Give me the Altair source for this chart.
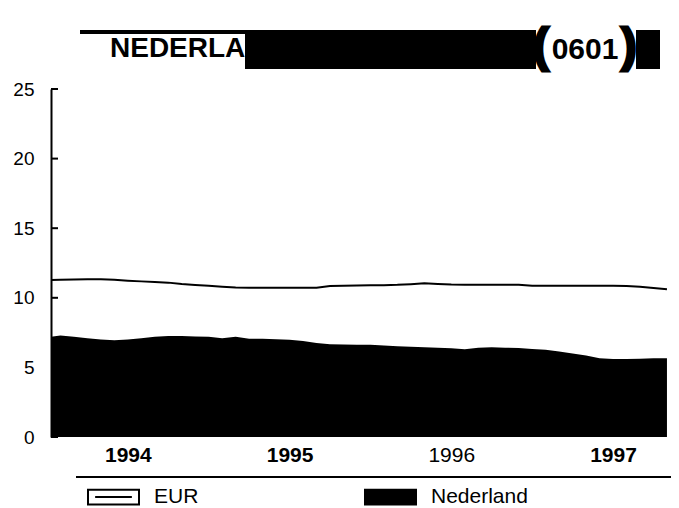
import altair as alt
import pandas as pd

# ---- data ----
MONTH_INDEX = list(range(47))  # months since Jan 1994 (Jan 1994 .. Nov 1997)
EUR = [11.28, 11.30, 11.32, 11.33, 11.33, 11.30, 11.23, 11.18, 11.13, 11.09,
       10.99, 10.92, 10.86, 10.80, 10.74, 10.73, 10.73, 10.73, 10.73, 10.73,
       10.73, 10.85, 10.87, 10.88, 10.90, 10.91, 10.93, 10.98, 11.04, 11.00,
       10.95, 10.94, 10.94, 10.94, 10.94, 10.94, 10.86, 10.86, 10.86, 10.86,
       10.86, 10.86, 10.86, 10.85, 10.80, 10.70, 10.62]
NL = [7.15, 7.30, 7.20, 7.10, 7.00, 6.95, 7.00, 7.10, 7.20, 7.25,
      7.25, 7.22, 7.20, 7.10, 7.20, 7.05, 7.05, 7.02, 6.98, 6.90,
      6.75, 6.66, 6.65, 6.63, 6.62, 6.58, 6.52, 6.48, 6.45, 6.42,
      6.38, 6.30, 6.42, 6.44, 6.42, 6.40, 6.33, 6.27, 6.15, 6.00,
      5.85, 5.65, 5.60, 5.60, 5.62, 5.65, 5.65]
SERIES = ["EUR", "Nederland"]
YEAR_LABEL_POS = [6, 18, 30, 42]  # mid-year positions for labels 1994..1997
Y_TICKS = [0, 5, 10, 15, 20, 25]
TITLE_TEXT = "NEDERLAND"
CODE_TEXT = "0601"

FONT = "Liberation Sans"

df = pd.DataFrame({"t": MONTH_INDEX, "eur": EUR, "nl": NL, "series": "Nederland"})

xscale = alt.Scale(domain=[0.3, 46.3], nice=False, zero=False)
yscale = alt.Scale(domain=[0, 25], nice=False)

XAXIS = alt.Axis(values=YEAR_LABEL_POS,
                 labelExpr="floor(datum.value / 12) + 1994",
                 domain=False, ticks=False, tickSize=0, grid=False,
                 labelFontSize=21, labelFont=FONT, labelColor="black",
                 labelFontWeight={"condition": {"test": "datum.value == 30", "value": "normal"},
                                  "value": "bold"},
                 labelBaseline="middle", labelPadding=18, labelFlush=False)
YAXIS = alt.Axis(values=Y_TICKS, domain=True, domainColor="black", domainWidth=2,
                 ticks=False, tickSize=0, grid=False, labelFontSize=19, labelFont=FONT,
                 labelColor="black", labelPadding=17, labelFlush=False)

legend_path = "M-1,-0.29H1V0.29H-1Z M-0.72,0H0.72"

area = alt.Chart(df).mark_area(clip=True, interpolate="linear").encode(
    x=alt.X("t:Q", scale=xscale, title=None, axis=XAXIS),
    y=alt.Y("nl:Q", scale=yscale, title=None, axis=YAXIS),
    color=alt.Color("series:N", title=None,
                    scale=alt.Scale(domain=SERIES, range=["white", "black"]),
                    legend=alt.Legend(orient="none", legendX=36, legendY=381.5,
                                      direction="horizontal", columns=2,
                                      columnPadding=162, padding=0,
                                      symbolType=legend_path, symbolSize=2601,
                                      symbolStrokeColor="black", symbolStrokeWidth=2,
                                      labelFontSize=21, labelFont=FONT, labelColor="black",
                                      labelOffset=14, labelLimit=300)),
)

line = alt.Chart(df).mark_line(clip=True, strokeWidth=2, color="black").encode(
    x=alt.X("t:Q", scale=xscale, title=None, axis=XAXIS),
    y=alt.Y("eur:Q", scale=yscale, title=None, axis=YAXIS),
)

tick_df = pd.DataFrame({"v": Y_TICKS})
yticks = alt.Chart(tick_df).mark_rule(color="black", strokeWidth=2).encode(
    y=alt.Y("v:Q", scale=yscale, title=None, axis=YAXIS),
    x=alt.value(0), x2=alt.value(7),
)

one = pd.DataFrame({"label": [TITLE_TEXT]})
sep = alt.Chart(one).mark_rule(color="black", strokeWidth=2).encode(
    x=alt.value(25), x2=alt.value(620), y=alt.value(388))

stripe = alt.Chart(one).mark_rect(color="black").encode(
    x=alt.value(29), x2=alt.value(194), y=alt.value(-59), y2=alt.value(-55))
title_txt = alt.Chart(one).mark_text(font=FONT, fontSize=28, fontWeight="bold",
                                     align="left", baseline="middle", color="black").encode(
    x=alt.value(59), y=alt.value(-40), text="label:N")
band = alt.Chart(one).mark_rect(color="black").encode(
    x=alt.value(194), x2=alt.value(485), y=alt.value(-59), y2=alt.value(-20))
rbar = alt.Chart(one).mark_rect(color="black").encode(
    x=alt.value(585), x2=alt.value(609), y=alt.value(-59), y2=alt.value(-20))

code_df = pd.DataFrame({"label": [CODE_TEXT]})
code_txt = alt.Chart(code_df).mark_text(font=FONT, fontSize=30, fontWeight="bold",
                                        align="center", baseline="middle", color="black").encode(
    x=alt.value(534), y=alt.value(-39), text="label:N")
paren_df = pd.DataFrame({"label": ["(", ")"], "px": [490, 578]})
parens = alt.Chart(paren_df).mark_text(font=FONT, fontSize=46, fontWeight="bold",
                                       align="center", baseline="middle", color="black",
                                       stroke="black", strokeWidth=3).encode(
    x=alt.X("px:Q", scale=None), y=alt.value(-42), text="label:N")

chart = alt.layer(area, line, yticks, sep, stripe, band, rbar, title_txt, code_txt, parens).properties(
    width=620, height=348,
    autosize=alt.AutoSizeParams(type="none"),
    padding={"left": 43, "top": 81, "right": 0, "bottom": 70},
    background="white",
).configure(font=FONT).configure_view(strokeWidth=0, stroke="transparent")

chart.save("out.html", embed_options={"renderer": "svg", "actions": False})
